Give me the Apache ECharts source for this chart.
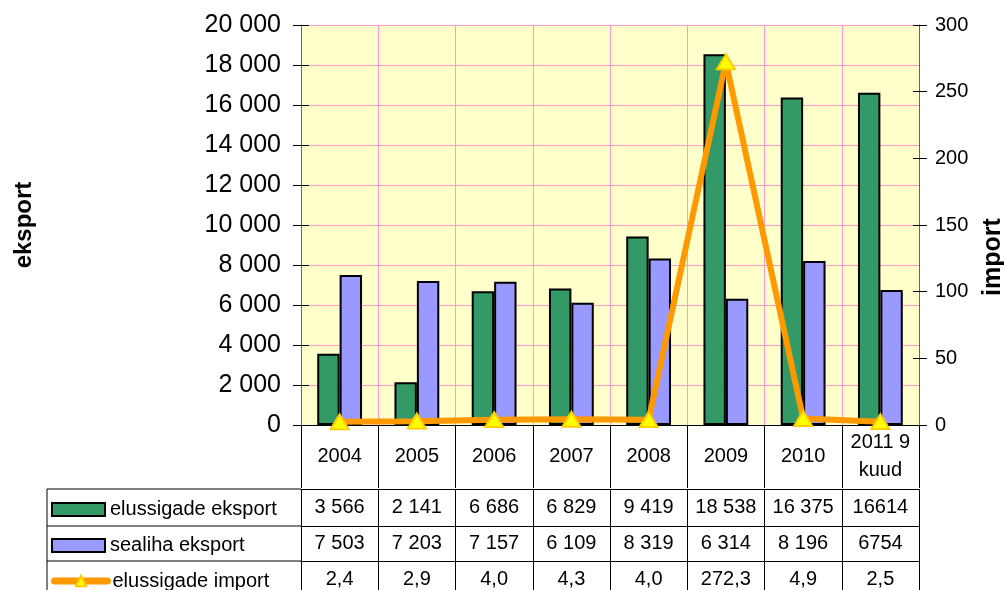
<!DOCTYPE html>
<html>
<head>
<meta charset="utf-8">
<script src="https://cdn.jsdelivr.net/npm/echarts@6/dist/echarts.min.js"></script>
<style>
  html, body { margin: 0; padding: 0; background: #fff; }
  #chart { width: 1004px; height: 590px; }
</style>
</head>
<body>
<div id="chart"></div>
<script>
// andmed
const years = ['2004', '2005', '2006', '2007', '2008', '2009', '2010', '2011 9\nkuud'];
const liveExport = [3566, 2141, 6686, 6829, 9419, 18538, 16375, 16614];
const porkExport = [7503, 7203, 7157, 6109, 8319, 6314, 8196, 6754];
const liveImport = [2.4, 2.9, 4.0, 4.3, 4.0, 272.3, 4.9, 2.5];
const seriesNames = ['elussigade eksport', 'sealiha eksport', 'elussigade import'];

const FONT = 'Arial, "Liberation Sans", sans-serif';
const gridLeft = 301, gridRight = 85, gridTop = 25, gridBottom = 165;
const H = 590;
const rowOffsets = [64, 101, 136]; // table rows below the header
const rowHeights = [37, 35, 36];

const group = v => String(v).replace(/\B(?=(\d{3})+(?!\d))/g, ' ');
// the last column (9 months) is written without thousand separator
const fmtInt = arr => arr.map((v, i) => i === arr.length - 1 ? String(v) : group(v));
const fmtDec = arr => arr.map(v => v.toFixed(1).replace('.', ','));

const tableRows = [fmtInt(liveExport), fmtInt(porkExport), fmtDec(liveImport)];

const chart = echarts.init(document.getElementById('chart'));

const tableAxis = (data, i) => ({
  type: 'category',
  gridIndex: 0,
  position: 'bottom',
  offset: rowOffsets[i],
  data: data,
  axisLine: { show: true, onZero: false, lineStyle: { color: '#000', width: 1 } },
  axisTick: { show: true, interval: 0, length: rowHeights[i], lineStyle: { color: '#000' } },
  axisLabel: {
    interval: 0, margin: rowHeights[i] / 2, verticalAlign: 'middle',
    fontSize: 20, color: '#000', fontFamily: FONT
  },
  splitLine: { show: false }
});

const baseY = gridTop + (H - gridTop - gridBottom);
const tableLeft = 47;
const graphics = [];
rowOffsets.forEach(off => {
  graphics.push({
    type: 'line', silent: true,
    shape: { x1: tableLeft, y1: baseY + off, x2: gridLeft, y2: baseY + off },
    style: { stroke: '#000', lineWidth: 1 }
  });
});
graphics.push({
  type: 'line', silent: true,
  shape: { x1: tableLeft, y1: baseY + rowOffsets[0], x2: tableLeft, y2: H },
  style: { stroke: '#000', lineWidth: 1 }
});

// one legend per table row
const legends = seriesNames.map((name, i) => ({
  orient: 'vertical',
  left: 51,
  top: baseY + rowOffsets[i] + rowHeights[i] / 2 - 8,
  padding: 0,
  itemWidth: 53, itemHeight: 13, itemGap: 0,
  textStyle: { fontSize: 20, color: '#000', fontFamily: FONT },
  lineStyle: { width: 7, cap: 'round' },
  data: [i < 2 ? { name: name, icon: 'rect' } : { name: name }]
}));

const option = {
  backgroundColor: '#fff',
  animation: false,
  textStyle: { fontFamily: FONT },
  grid: {
    left: gridLeft, right: gridRight, top: gridTop, bottom: gridBottom,
    show: true, backgroundColor: '#FFFFCC', borderWidth: 0,
    outerBoundsMode: 'none'
  },
  legend: legends,
  xAxis: [
    {
      type: 'category',
      data: years,
      position: 'bottom',
      axisLine: { show: true, lineStyle: { color: '#000', width: 1 } },
      axisTick: { show: true, interval: 0, length: 63, lineStyle: { color: '#000' } },
      axisLabel: {
        interval: 0, margin: 31, verticalAlign: 'middle', lineHeight: 28,
        fontSize: 20, color: '#000', fontFamily: FONT
      },
      splitLine: { show: true, interval: 0, lineStyle: { color: '#FF99CC', width: 1 } }
    },
    tableAxis(tableRows[0], 0),
    tableAxis(tableRows[1], 1),
    tableAxis(tableRows[2], 2)
  ],
  yAxis: [
    {
      type: 'value', position: 'left',
      min: 0, max: 20000, interval: 2000,
      name: 'eksport', nameLocation: 'middle', nameGap: 265, nameRotate: 90,
      nameTextStyle: { fontSize: 24, fontWeight: 'bold', color: '#000', fontFamily: FONT },
      axisLine: { show: true, lineStyle: { color: '#666', width: 1 } },
      axisTick: { show: true, length: 8, lineStyle: { color: '#000' } },
      axisLabel: { fontSize: 25, color: '#000', margin: 20, fontFamily: FONT,
        formatter: v => group(v) },
      splitLine: { show: true, lineStyle: { color: '#FF99CC', width: 1 } }
    },
    {
      type: 'value', position: 'right',
      min: 0, max: 300, interval: 50,
      name: 'import', nameLocation: 'middle', nameGap: 62, nameRotate: 90,
      nameTextStyle: { fontSize: 25, fontWeight: 'bold', color: '#000', fontFamily: FONT,
        padding: [0, 64, 0, 0] },
      axisLine: { show: true, lineStyle: { color: '#666', width: 1 } },
      axisTick: { show: true, length: 8, lineStyle: { color: '#000' } },
      axisLabel: { fontSize: 20, color: '#000', margin: 16, fontFamily: FONT },
      splitLine: { show: false }
    },
    {
      type: 'value', position: 'left',
      min: 0, max: 20000, interval: 2000,
      axisLine: { show: false },
      axisTick: { show: true, inside: true, length: 8, lineStyle: { color: '#000' } },
      axisLabel: { show: false },
      splitLine: { show: false }
    },
    {
      type: 'value', position: 'right',
      min: 0, max: 300, interval: 50,
      axisLine: { show: false },
      axisTick: { show: true, inside: true, length: 6, lineStyle: { color: '#000' } },
      axisLabel: { show: false },
      splitLine: { show: false }
    }
  ],
  series: [
    {
      name: seriesNames[0], type: 'bar', xAxisIndex: 0, yAxisIndex: 0,
      data: liveExport,
      barGap: '0%', barCategoryGap: '42%',
      itemStyle: { color: '#339966', borderColor: '#000', borderWidth: 2 }
    },
    {
      name: seriesNames[1], type: 'bar', xAxisIndex: 0, yAxisIndex: 0,
      data: porkExport,
      barGap: '0%', barCategoryGap: '42%',
      itemStyle: { color: '#9999FF', borderColor: '#000', borderWidth: 2 }
    },
    {
      name: seriesNames[2], type: 'line', xAxisIndex: 0, yAxisIndex: 1,
      data: liveImport,
      z: 5,
      symbol: 'triangle', symbolSize: [18, 15],
      lineStyle: { color: '#FF9900', width: 6 },
      itemStyle: { color: '#FFFF00', borderColor: '#FFCC00', borderWidth: 2 }
    }
  ],
  graphic: graphics
};

chart.setOption(option);
</script>
</body>
</html>
